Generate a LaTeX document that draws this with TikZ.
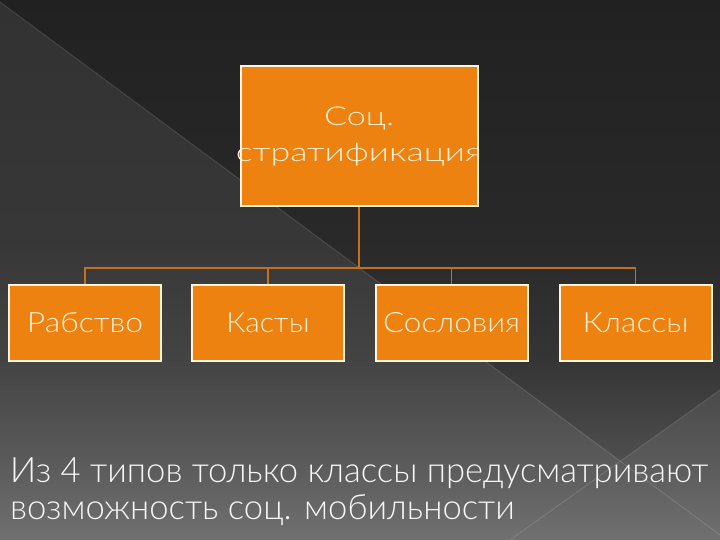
\documentclass[tikz,border=0pt]{standalone}
\usepackage{fontspec}
\usepackage{graphicx}
\IfFontExistsTF{Lato Light}{\setmainfont{Lato Light}}{\setmainfont{Lato}}
\definecolor{boxorange}{RGB}{238,130,16}
\definecolor{boxedge}{RGB}{255,244,220}
\definecolor{boxtext}{RGB}{255,240,214}
\definecolor{linkcol}{RGB}{196,112,34}
\definecolor{notetext}{RGB}{246,246,246}
\pgfdeclareverticalshading{baseshade}{100bp}{rgb(0bp)=(0.44,0.44,0.44); rgb(25bp)=(0.44,0.44,0.44); rgb(32.4bp)=(0.353,0.353,0.353); rgb(41.67bp)=(0.267,0.267,0.267); rgb(52.78bp)=(0.216,0.216,0.216); rgb(75bp)=(0.196,0.196,0.196); rgb(100bp)=(0.196,0.196,0.196)}
\pgfdeclareverticalshading{darkshade}{100bp}{rgb(0bp)=(0.34,0.34,0.34); rgb(25bp)=(0.34,0.34,0.34); rgb(32.4bp)=(0.306,0.306,0.306); rgb(41.67bp)=(0.208,0.208,0.208); rgb(52.78bp)=(0.161,0.161,0.161); rgb(75bp)=(0.13,0.13,0.13); rgb(100bp)=(0.13,0.13,0.13)}
\newcommand{\fitw}[2]{\makebox[100pt][c]{\resizebox{#1}{\height}{#2}}}
\begin{document}
\begin{tikzpicture}[x=1pt,y=-1pt,
  stepbox/.style={draw=boxedge, line width=2pt, fill=boxorange, text=boxtext, inner sep=0pt,
    minimum width=152pt, minimum height=76pt, font=\fontsize{28}{34}\selectfont},
  topbox/.style={stepbox, minimum width=237pt, minimum height=140pt, align=center,
    font=\fontsize{26}{35}\selectfont},
  link/.style={draw=linkcol, line width=1.6pt},
  edgeline/.style={draw=white, draw opacity=0.12, line width=1pt}]
\useasboundingbox (0,0) rectangle (720,540);
% background
\shade[shading=baseshade] (0,0) rectangle (720,540);
\begin{scope}
  \clip (0,2) -- (620.5,461) -- (720,390) -- (720,0) -- (0,0) -- cycle;
  \shade[shading=darkshade] (0,0) rectangle (720,540);
\end{scope}
\draw[edgeline] (0,2) -- (720,535);
\draw[edgeline] (720,390) -- (510,540);
% nodes
\node[topbox] (top) at (359,136.5) {\fitw{70pt}{Соц.}\\[1pt]\fitw{246pt}{стратификация}};
\node[stepbox] (b1) at (85,323) {\fitw{116pt}{Рабство}};
\node[stepbox] (b2) at (268,323) {\fitw{83pt}{Касты}};
\node[stepbox] (b3) at (451.5,323) {\fitw{137pt}{Сословия}};
\node[stepbox] (b4) at (635.5,323) {\fitw{106pt}{Классы}};
% connectors
\coordinate (hub) at (359,268);
\draw[link] (top.south) -- (hub);
\foreach \b in {b1,b2,b3,b4} \draw[link] (hub) -| (\b.north);
% note
\node[anchor=base west, inner sep=0pt, text=notetext, font=\fontsize{35}{37}\selectfont] (note) at (10,482)
  {\resizebox{698pt}{\height}{\begin{tabular}[t]{@{}l@{}}Из 4 типов только классы предусматривают\\возможность соц. мобильности\end{tabular}}};
\end{tikzpicture}
\end{document}
